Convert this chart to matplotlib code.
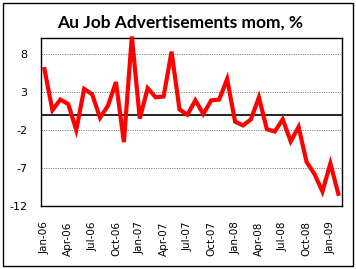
import matplotlib
matplotlib.use("Agg")
import matplotlib.pyplot as plt
from matplotlib.patches import Rectangle

months = ["Jan-06","Feb-06","Mar-06","Apr-06","May-06","Jun-06","Jul-06","Aug-06","Sep-06","Oct-06","Nov-06","Dec-06",
          "Jan-07","Feb-07","Mar-07","Apr-07","May-07","Jun-07","Jul-07","Aug-07","Sep-07","Oct-07","Nov-07","Dec-07",
          "Jan-08","Feb-08","Mar-08","Apr-08","May-08","Jun-08","Jul-08","Aug-08","Sep-08","Oct-08","Nov-08","Dec-08",
          "Jan-09","Feb-09"]
values = [6.0, 0.6, 2.0, 1.4, -2.0, 3.4, 2.7, -0.4, 1.2, 4.3, -3.6, 10.3,
          -0.5, 3.5, 2.3, 2.4, 8.3, 0.7, 0.0, 1.9, 0.1, 1.9, 2.0, 4.7,
          -0.9, -1.4, -0.6, 2.3, -1.9, -2.2, -0.6, -3.5, -1.6, -6.2, -7.8, -10.1,
          -6.4, -10.4]
yticks = [-12, -7, -2, 3, 8]
title = "Au Job Advertisements mom, %"

W, H = 356, 269
fig = plt.figure(figsize=(W/100, H/100), dpi=100)
fig.patches.append(Rectangle((3/W, 3/H), 350/W, 263/H, transform=fig.transFigure,
                             fill=False, edgecolor="black", linewidth=1.0))

left, right, top, bottom = 40.5, 342.3, 38, 206
ax = fig.add_axes([left/W, 1-bottom/H, (right-left)/W, (bottom-top)/H])
x = list(range(len(values)))
ax.set_xlim(-0.5, len(values)-0.5)
ax.set_ylim(-12, 10.1)
for yv in yticks[1:]:
    ax.axhline(yv, color="#808080", linestyle=(0, (1.2, 1.2)), linewidth=0.7, zorder=1)
ax.axhline(0, color="black", linewidth=1.2, zorder=2)
ax.plot(x, values, color="#FF0000", linewidth=3.0, zorder=3, clip_on=False, solid_joinstyle="miter")

ax.set_yticks(yticks)
ax.set_yticklabels([str(v) for v in yticks], fontsize=8)
ax.set_xticks(x[::3])
ax.set_xticklabels(months[::3], rotation=90, fontsize=7.5)
ax.tick_params(axis="x", length=0, pad=11)
ax.tick_params(axis="y", length=0, pad=9.5)
for s in ax.spines.values():
    s.set_linewidth(1.0)
    s.set_color("black")

fig.text(180/W, 1-23/H, title, ha="center", va="center", fontsize=12.5,
         fontweight="bold", family="Lato")
fig.savefig("out.png", dpi=100)
